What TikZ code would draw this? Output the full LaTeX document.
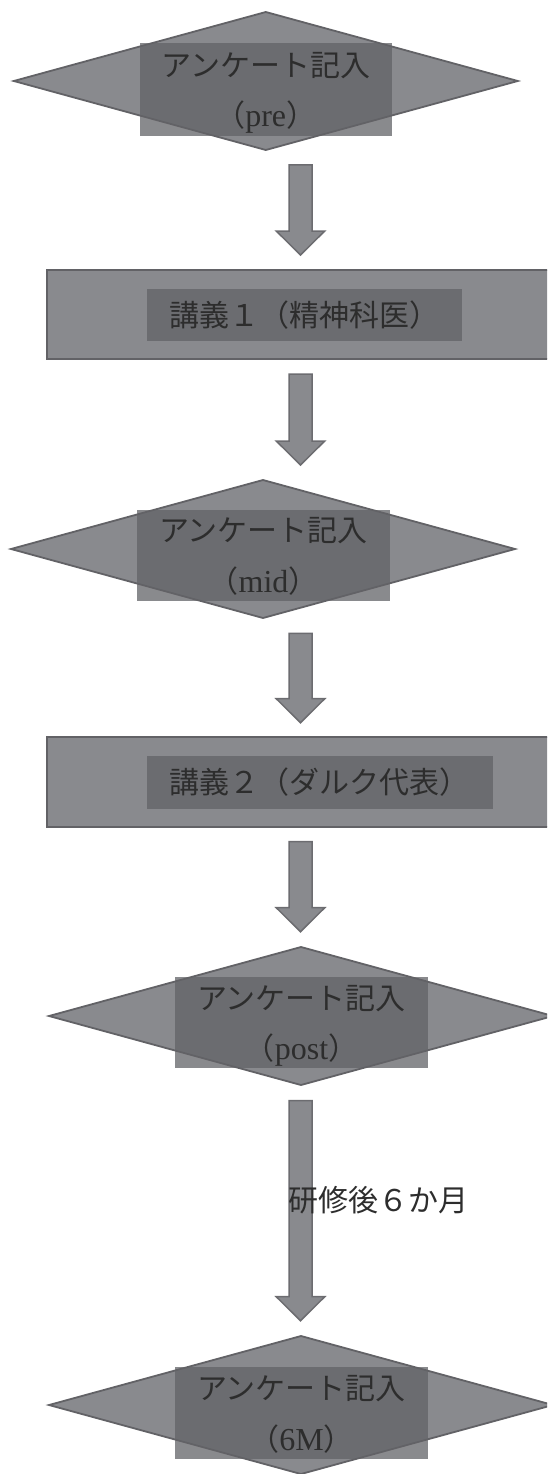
\documentclass[tikz,border=0pt]{standalone}
\usepackage{fontspec}
\newfontfamily\jp{Noto Sans CJK JP}
\newfontfamily\lat{Liberation Serif}
\usetikzlibrary{shapes.geometric,calc}
\definecolor{shapefill}{RGB}{137,138,142}
\definecolor{shapeedge}{RGB}{98,98,102}
\definecolor{arrowedge}{RGB}{108,108,112}
\definecolor{overlay}{RGB}{98,99,103}
\definecolor{txt}{RGB}{45,45,45}
\newcommand{\latw}[1]{{\lat\fontsize{32pt}{36pt}\selectfont #1}}
\begin{document}
\begin{tikzpicture}[x=1pt,y=-1pt,
  dia/.style={diamond, draw=shapeedge, fill=shapefill, line width=1.8pt, inner sep=0pt, outer sep=0pt, minimum width=504pt, minimum height=138pt},
  box/.style={rectangle, draw=shapeedge, fill=shapefill, line width=1.8pt, inner sep=0pt, minimum width=513pt, minimum height=89.3pt},
  cover/.style={rectangle, fill=overlay, fill opacity=0.75, inner sep=0pt, draw=none},
  jtext/.style={text=txt, inner sep=0pt, font=\jp\fontsize{30pt}{36pt}\selectfont},
  blockarrow/.style={draw=arrowedge, fill=shapefill, line width=1.5pt, line join=miter,
    to path={let \p1=(\tikztostart), \p2=(\tikztotarget) in
      (\x1-11.5pt,\y1) -- (\x1+11.5pt,\y1) -- (\x1+11.5pt,\y2+24pt) -- (\x1+24.25pt,\y2+24pt)
      -- (\x2,\y2) -- (\x1-24.25pt,\y2+24pt) -- (\x1-11.5pt,\y2+24pt) -- cycle}}
]
\useasboundingbox (0,0) rectangle (547,1474);
\clip (0,0) rectangle (547,1474);

% diamond 1
\node[dia] (d1) at (265.8,81) {};
\node[cover, minimum width=252pt, minimum height=93pt] (c1) at (265.7,89.7) {};
\node[jtext, anchor=base] (d1a) at ([yshift=13.5pt]c1.center) {アンケート記入};
\node[jtext, anchor=base] (d1b) at ([yshift=-37pt]c1.center) {（\latw{pre}）};

% lecture 1
\node[box] (r1) at (303.5,314.65) {};
\node[cover, minimum width=315pt, minimum height=51.7pt] (c2) at (304,314.9) {};
\node[jtext] (r1t) at (c2.center) {講義１（精神科医）};

% diamond 2
\node[dia] (d2) at (263,549) {};
\node[cover, minimum width=253pt, minimum height=91pt] (c3) at (263.5,555.3) {};
\node[jtext, anchor=base] (d2a) at ([yshift=13.5pt]c3.center) {アンケート記入};
\node[jtext, anchor=base] (d2b) at ([yshift=-37pt]c3.center) {（\latw{mid}）};

% lecture 2
\node[box] (r2) at (303.5,782) {};
\node[cover, minimum width=346.5pt, minimum height=52.7pt] (c4) at (319.75,782.4) {};
\node[jtext] (r2t) at (c4.center) {講義２（ダルク代表）};

% diamond 3
\node[dia] (d3) at (301,1016) {};
\node[cover, minimum width=253pt, minimum height=91pt] (c5) at (301.5,1022.8) {};
\node[jtext, anchor=base] (d3a) at ([yshift=13.5pt]c5.center) {アンケート記入};
\node[jtext, anchor=base] (d3b) at ([yshift=-37pt]c5.center) {（\latw{post}）};

% diamond 4
\node[dia] (d4) at (301,1405) {};
\node[cover, minimum width=253pt, minimum height=92.6pt] (c6) at (301.5,1413) {};
\node[jtext, anchor=base] (d4a) at ([yshift=13.5pt]c6.center) {アンケート記入};
\node[jtext, anchor=base] (d4b) at ([yshift=-37pt]c6.center) {（\latw{6M}）};

% block arrows
\coordinate (a1s) at (300.5,165);    \coordinate (a1e) at (300.5,255);
\coordinate (a2s) at (300.5,374);    \coordinate (a2e) at (300.5,465);
\coordinate (a3s) at (300.5,633.3);  \coordinate (a3e) at (300.5,722.7);
\coordinate (a4s) at (300.5,841.7);  \coordinate (a4e) at (300.5,931.7);
\coordinate (a5s) at (300.5,1100.7); \coordinate (a5e) at (300.5,1320.7);
\draw[blockarrow] (a1s) to (a1e);
\draw[blockarrow] (a2s) to (a2e);
\draw[blockarrow] (a3s) to (a3e);
\draw[blockarrow] (a4s) to (a4e);
\draw[blockarrow] (a5s) to (a5e);

\node[jtext, anchor=west] (lab) at (288,1200) {研修後６か月};
\end{tikzpicture}
\end{document}
